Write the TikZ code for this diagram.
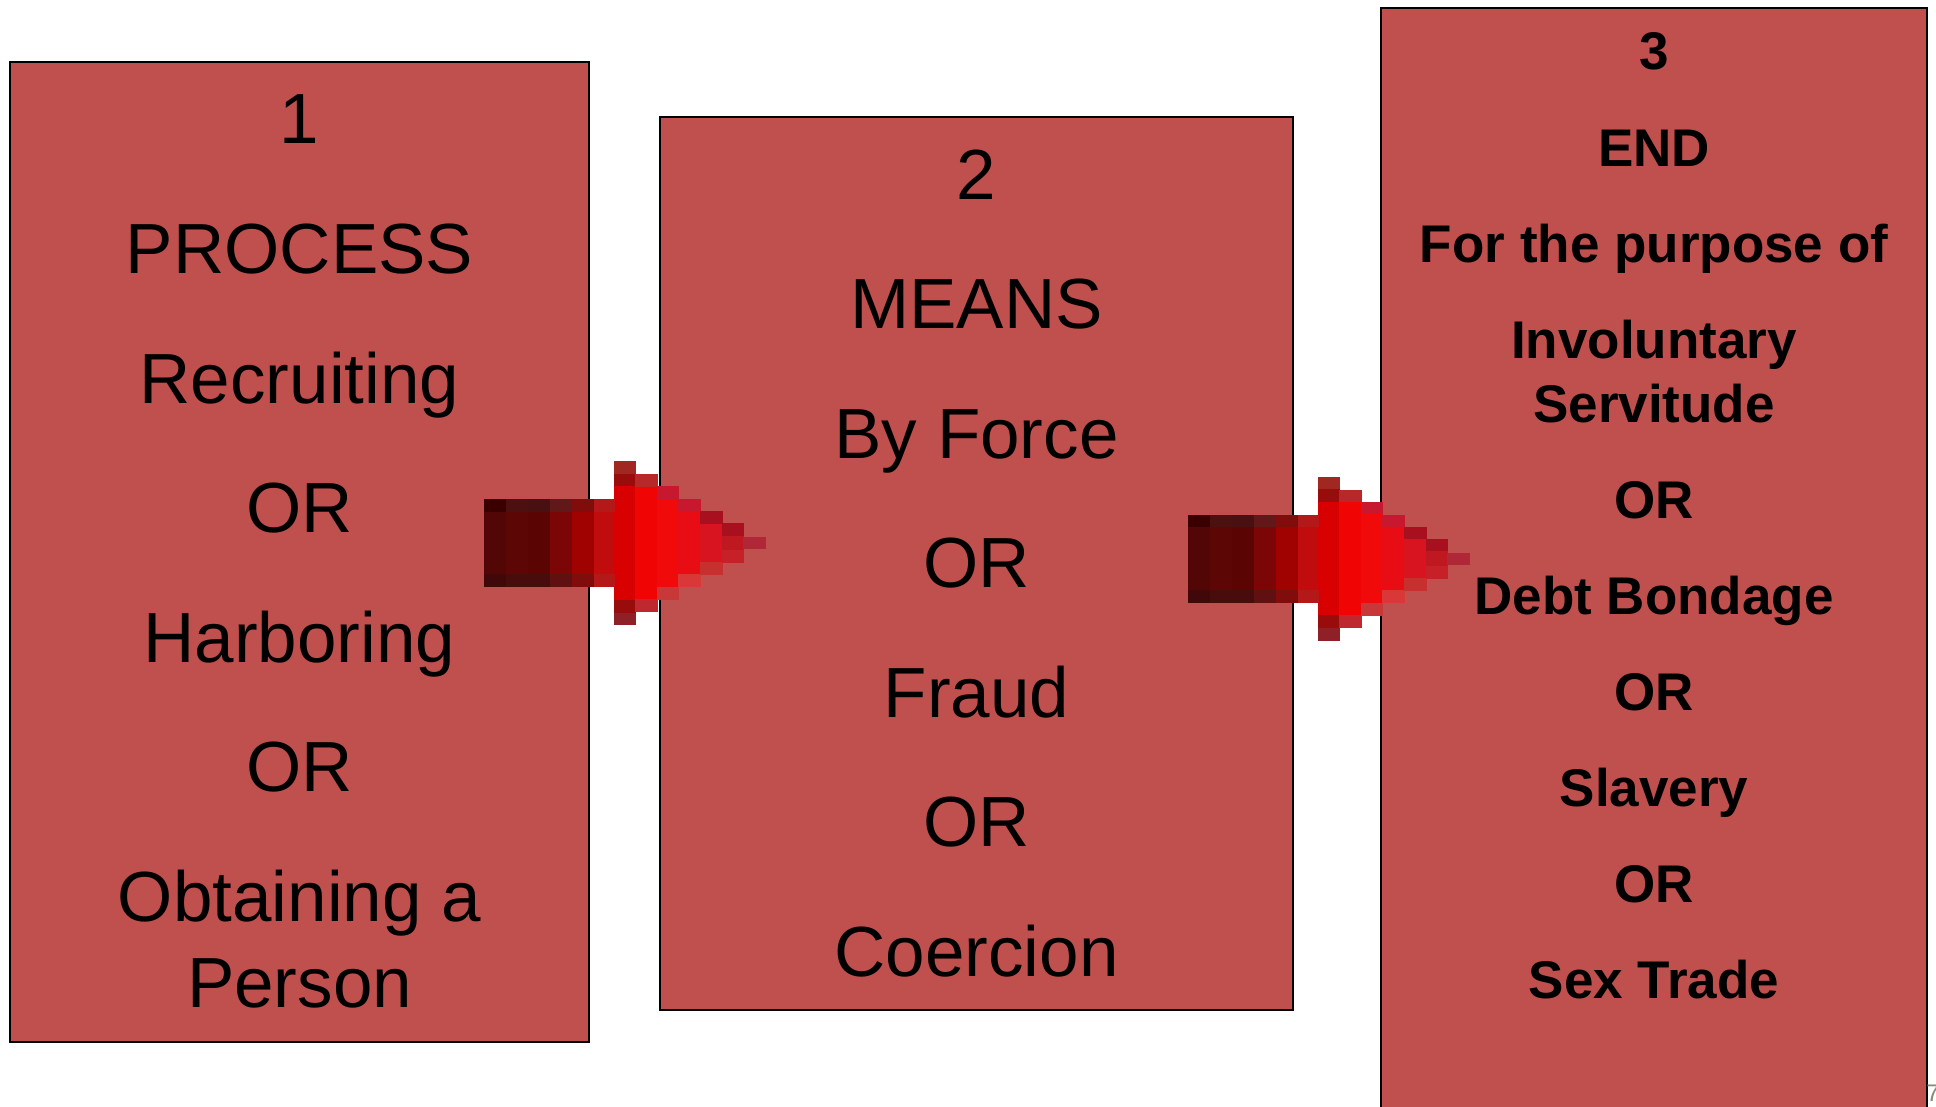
\documentclass[tikz,border=0pt]{standalone}
\usepackage{fontspec}
\setmainfont{Liberation Sans}
\definecolor{boxred}{HTML}{C0504D}
\definecolor{slidenum}{HTML}{8A8A7A}
\begin{document}
\begin{tikzpicture}[x=0.5pt,y=-0.5pt,
  box/.style={draw=black,line width=1pt,fill=boxred,inner sep=0pt,outer sep=0pt,anchor=north west},
  plain/.style={anchor=base,inner sep=0pt,font=\fontsize{35.5}{43}\selectfont},
  boldt/.style={anchor=base,inner sep=0pt,font=\fontsize{26.5}{32}\selectfont\bfseries},
  pixarrow/.pic={
    % main columns
    \foreach \xa/\xb/\ya/\col in {0/22/44/520606,22/44/44/5C0606,44/66/44/5A0404,66/88/44/7C0606,88/110/44/A00202,110/131/44/C00C0C,130/152/82/D80000,151/174/69/F00404,173/195/57/F00A0A,194/217/44/E80C14,216/239/32/D81420,238/260/20/C01820,259/282/6/B02838}{
      \definecolor{pxc}{HTML}{\col}
      \fill[pxc] (\xa,-\ya) rectangle (\xb,\ya);
    }
    % darker edge cells, top and bottom
    \foreach \xa/\xb/\ya/\ct/\cb in {0/22/44/3A0000/400808,22/44/44/4C1010/480C0C,44/66/44/481010/480C0C,66/88/44/601818/601010,88/110/44/800C0C/800C0C,110/131/44/B41818/B41818,130/152/82/A02820/902028,130/152/69.5/980C0C/980C0C,151/174/69/B82828/C02830,173/195/57/C81830/C83838,194/217/44/C81830/D83838,216/239/32/A81020/C83030,238/260/20/A81020/C82028}{
      \definecolor{pxt}{HTML}{\ct}
      \definecolor{pxb}{HTML}{\cb}
      \fill[pxt] (\xa,-\ya) rectangle (\xb,-\ya+12.6);
      \fill[pxb] (\xa,\ya-12.6) rectangle (\xb,\ya);
    }
  }]
\useasboundingbox (0,0) rectangle (1936,1107);
% boxes
\node[box,minimum width=289.5pt,minimum height=490pt] (b1) at (10,62) {};
\node[box,minimum width=316.5pt,minimum height=446.5pt] (b2) at (660,117) {};
\node[box,minimum width=273pt,minimum height=553.5pt] (b3) at (1381,8) {};
% box 1 text
\foreach \yy/\txt [count=\i] in {144/1,273/PROCESS,403/Recruiting,532/OR,662/Harboring,791/OR,921/Obtaining a,1007/Person}
  \node[plain] (ta\i) at (299.5,\yy) {\txt};
% box 2 text
\foreach \yy/\txt [count=\i] in {199/2,328/MEANS,458/By Force,587/OR,717/Fraud,846/OR,976/Coercion}
  \node[plain] (tb\i) at (976.5,\yy) {\txt};
% box 3 text
\foreach \yy/\txt [count=\i] in {70/3,167/END,263/For the purpose of,358/Involuntary,422/Servitude,518/OR,614/Debt Bondage,710/OR,806/Slavery,902/OR,998/Sex Trade}
  \node[boldt] (tc\i) at (1654,\yy) {\txt};
% arrows
\coordinate (a1) at (484,543);
\coordinate (a2) at (1188,558.5);
\pic at (a1) {pixarrow};
\pic at (a2) {pixarrow};
% slide number
\node[anchor=base west,inner sep=0pt,text=slidenum,font=\fontsize{12}{14}\selectfont] (num) at (1926,1101) {7};
\end{tikzpicture}
\end{document}
